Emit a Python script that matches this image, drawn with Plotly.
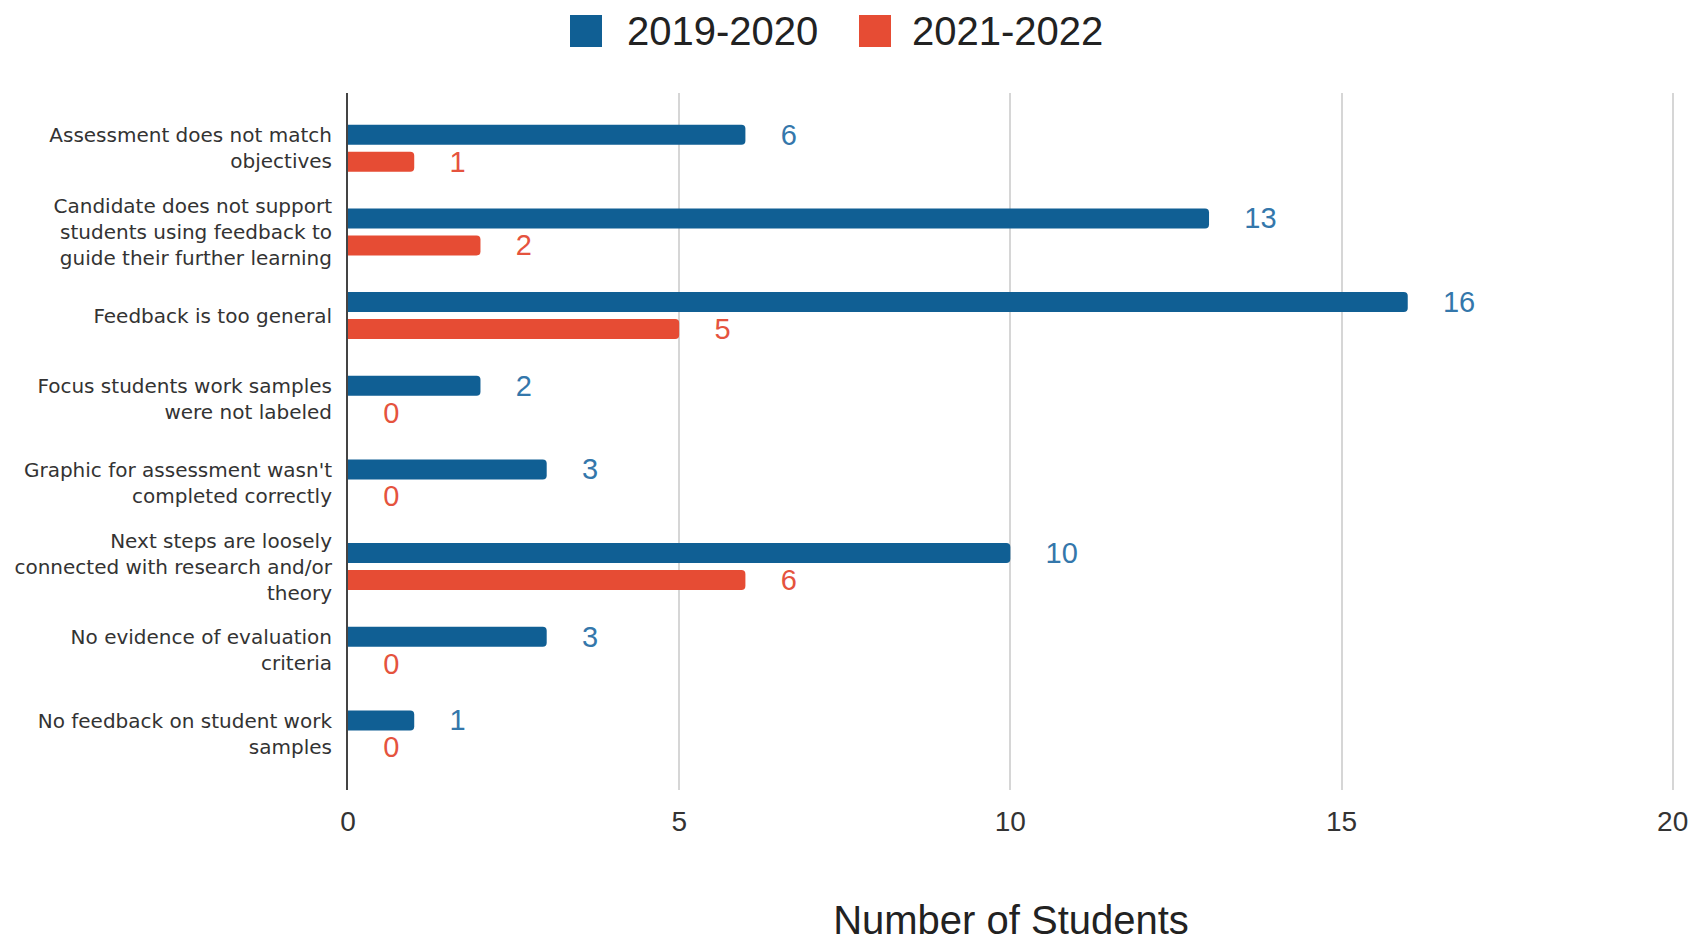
import plotly.graph_objects as go

categories = [
    "Assessment does not match<br>objectives",
    "Candidate does not support<br>students using feedback to<br>guide their further learning",
    "Feedback is too general",
    "Focus students work samples<br>were not labeled",
    "Graphic for assessment wasn't<br>completed correctly",
    "Next steps are loosely<br>connected with research and/or<br>theory",
    "No evidence of evaluation<br>criteria",
    "No feedback on student work<br>samples",
]
series_names = ["2019-2020", "2021-2022"]
values_2019_2020 = [6, 13, 16, 2, 3, 10, 3, 1]
values_2021_2022 = [1, 2, 5, 0, 0, 6, 0, 0]
x_ticks = [0, 5, 10, 15, 20]
x_title = "Number of Students"

bar_colors = ["#105f94", "#e64c34"]
label_colors = ["#3477ab", "#e5533e"]

W, H = 1702, 942
L, R, T, B = 348, 28, 93, 152
PW, PH = W - L - R, H - T - B

fig = go.Figure()
for name, vals, bc, lc in zip(series_names, [values_2019_2020, values_2021_2022], bar_colors, label_colors):
    fig.add_trace(go.Bar(
        y=categories, x=vals, name=name, orientation="h",
        marker=dict(color=bc, line=dict(width=0)),
        texttemplate="\u00a0\u00a0\u00a0\u00a0%{x}",
        textposition="outside",
        constraintext="none",
        cliponaxis=False,
        outsidetextfont=dict(family="Liberation Sans, Arial", size=29, color=lc),
        showlegend=False,
        hoverinfo="skip",
    ))

# Legend drawn as layout decorations (large swatches like the reference)
def px_x(p):
    return (p - L) / PW

def px_y(p):
    return (H - B - p) / PH

shapes = []
annotations = []
legend_items = [(570, 625), (859, 910)]
for (sx, tx), name, bc in zip(legend_items, series_names, bar_colors):
    shapes.append(dict(type="rect", xref="paper", yref="paper",
                       x0=px_x(sx), x1=px_x(sx + 32), y0=px_y(47), y1=px_y(15),
                       fillcolor=bc, line=dict(width=0)))
    annotations.append(dict(xref="paper", yref="paper", x=px_x(tx), y=px_y(31),
                            xanchor="left", yanchor="middle", showarrow=False,
                            text=name, font=dict(family="Liberation Sans, Arial", size=40, color="#222222")))

fig.update_layout(
    width=W, height=H,
    margin=dict(l=L, r=R, t=T, b=B, autoexpand=False),
    paper_bgcolor="white", plot_bgcolor="white",
    barmode="group", bargap=0.354, bargroupgap=0.26,
    barcornerradius=4,
    showlegend=False,
    shapes=shapes, annotations=annotations,
    xaxis=dict(
        range=[0, 20.02], tickvals=x_ticks, showgrid=True, gridcolor="#d6d6d6", gridwidth=1.5,
        zeroline=False, showline=False,
        tickfont=dict(family="Liberation Sans, Arial", size=28, color="#333333"),
        ticklabelstandoff=12,
        title=dict(text=x_title, font=dict(family="Liberation Sans, Arial", size=40, color="#222222"), standoff=73),
        automargin=False,
    ),
    yaxis=dict(
        type="category", range=[7.67, -0.66], showgrid=False, zeroline=False,
        showline=True, linecolor="#444444", linewidth=2,
        tickfont=dict(family="DejaVu Sans", size=20, color="#333333"),
        ticklabelstandoff=10,
        automargin=False,
    ),
)

fig.write_html("out.html", config={"displayModeBar": False},
               post_script="document.body.style.margin='0';document.body.style.overflow='hidden';")
